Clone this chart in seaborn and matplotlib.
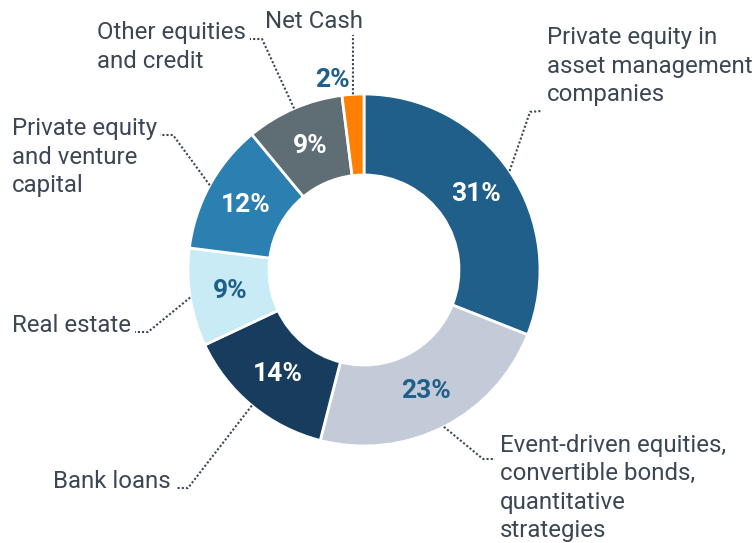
import numpy as np
import matplotlib
matplotlib.use("Agg")
import matplotlib.pyplot as plt
import seaborn as sns

# datos del gráfico
categorias = [
    "Private equity in\nasset management\ncompanies",
    "Event-driven equities,\nconvertible bonds,\nquantitative\nstrategies",
    "Bank loans",
    "Real estate",
    "Private equity\nand venture\ncapital",
    "Other equities\nand credit",
    "Net Cash",
]
valores = [31, 23, 14, 9, 12, 9, 2]
colores = ["#1f5f8a", "#c4cbd8", "#173c5e", "#c8ebf6", "#2b80b1", "#5f6e75", "#ff7f00"]
color_pct = ["white", "#1f5f8a", "white", "#1f5f8a", "white", "white", "#1f5f8a"]

# disposición de etiquetas (px de la imagen, y hacia abajo)
# (x texto, y texto, alineación, codo, fin de la guía)
etiquetas_pos = [
    (547, 66, "left", (530, 112), (541, 111)),
    (500, 488, "left", (483, 459), (495, 459)),
    (171, 481, "right", (188, 488), (176, 488)),
    (131, 325, "right", (148, 332), (135, 332)),
    (12, 157, "left", (173, 135), (160, 135)),
    (97, 47, "left", (262, 39), (250, 39)),
    (265, 21, "left", (353, 35), (353, 35)),
]

W, H = 755, 543
CX, CY = 364, 270
R_EXT, R_INT = 176, 95
GRIS = "#3b4754"

sns.set_theme(style="white")
plt.rcParams["font.family"] = ["Roboto", "DejaVu Sans"]


def Y(y):
    return H - y


fig = plt.figure(figsize=(W / 100, H / 100), dpi=100)
ax = fig.add_axes([0, 0, 1, 1])

cunas, _ = ax.pie(
    valores,
    colors=colores,
    startangle=90,
    counterclock=False,
    center=(CX, Y(CY)),
    radius=R_EXT,
    wedgeprops=dict(width=R_EXT - R_INT, edgecolor="white", linewidth=2),
    frame=True,
)
ax.set_xlim(0, W)
ax.set_ylim(0, H)
ax.axis("off")

r_med = (R_EXT + R_INT) / 2
for cuna, v, c, txt, pos in zip(cunas, valores, color_pct, categorias, etiquetas_pos):
    ang = np.deg2rad((cuna.theta1 + cuna.theta2) / 2)
    tx, ty, ha, codo, fin = pos
    if v >= 5:
        ax.text(CX + r_med * np.cos(ang), Y(CY) + r_med * np.sin(ang), f"{v}%",
                ha="center", va="center", color=c, fontsize=19, fontweight="bold")
    else:
        # la cuña pequeña lleva su porcentaje por fuera
        ax.text(332, Y(80), f"{v}%", ha="center", va="center", color=c,
                fontsize=19, fontweight="bold")
    x0 = CX + R_EXT * np.cos(ang)
    y0 = Y(CY) + R_EXT * np.sin(ang)
    ax.plot([x0, codo[0], fin[0]], [y0, Y(codo[1]), Y(fin[1])],
            linestyle=(0, (1, 1)), color=GRIS, linewidth=1.5)
    ax.text(tx, Y(ty), txt, ha=ha, va="center", color=GRIS, fontsize=17.3,
            linespacing=1.3)

fig.savefig("out.png", dpi=100)
